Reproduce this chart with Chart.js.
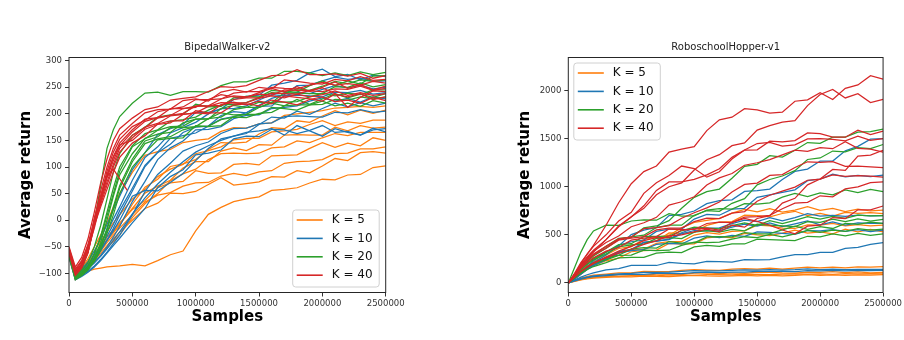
<!DOCTYPE html>
<html>
<head>
<meta charset="utf-8">
<title>Average return vs samples</title>
<script src="https://cdn.jsdelivr.net/npm/chart.js@4.4.1/dist/chart.umd.min.js"></script>
<style>
  html, body { margin: 0; padding: 0; background: #fff; }
  body { width: 904px; height: 340px; position: relative; overflow: hidden; }
  .panel { position: absolute; top: 0; width: 452px; height: 340px; }
  #walker-panel { left: 0; }
  #hopper-panel { left: 452px; }
</style>
</head>
<body>
<div class="panel" id="walker-panel"><canvas id="walker"></canvas></div>
<div class="panel" id="hopper-panel"><canvas id="hopper"></canvas></div>
<script>
// ---------- data ----------
const kValues = [5, 10, 20, 40];
const sampleTicks = [0, 500000, 1000000, 1500000, 2000000, 2500000];

// BipedalWalker-v2
const walkerSamples = [0, 50000, 100000, 150000, 200000, 250000, 300000, 350000, 400000,
  500000, 600000, 700000, 800000, 900000, 1000000, 1100000, 1200000, 1300000, 1400000, 1500000,
  1600000, 1700000, 1800000, 1900000, 2000000, 2100000, 2200000, 2300000, 2400000, 2500000];
const walkerTicks = [-100, -50, 0, 50, 100, 150, 200, 250, 300];

const walkerK5 = [
  [-65,-112,-102,-96,-92,-90,-88,-87,-86,-83,-86,-76,-65,-58,-20,11,24,35,40,44,56,58,61,70,77,76,85,86,99,102],
  [-58,-108,-98,-88,-75,-62,-48,-35,-22,0,22,32,51,50,54,67,80,66,69,72,82,81,93,89,102,116,112,127,129,126],
  [-62,-105,-96,-86,-72,-58,-42,-28,-15,10,34,47,52,64,70,71,83,88,84,91,93,107,110,111,114,125,126,134,134,138],
  [-55,-100,-92,-80,-64,-48,-32,-18,-5,20,37,61,70,73,93,88,89,105,107,104,121,122,123,135,146,137,145,140,155,150],
  [-70,-110,-100,-90,-78,-66,-52,-40,-28,5,31,50,74,87,96,114,125,126,125,126,136,138,149,146,155,163,159,165,165,165],
  [-60,-104,-94,-82,-68,-52,-36,-22,-8,22,51,64,75,98,110,110,130,136,131,142,141,160,161,160,160,175,168,178,173,175],
  [-52,-98,-90,-76,-58,-40,-22,-5,10,40,58,82,96,105,125,131,138,151,154,154,166,168,171,180,187,178,185,182,188,188],
  [-66,-106,-96,-84,-70,-54,-38,-24,-10,30,62,77,101,106,114,133,146,145,147,162,174,172,187,184,196,206,198,207,201,207],
  [-58,-102,-90,-72,-50,-28,-5,25,50,90,122,129,133,146,150,153,167,174,173,181,183,197,200,203,206,211,212,214,212,215]
];
const walkerK10 = [
  [-60,-100,-92,-78,-58,-35,-8,20,45,95,127,161,172,180,203,203,209,227,233,235,254,258,263,277,284,270,274,264,273,270],
  [-64,-104,-96,-84,-66,-46,-22,2,25,75,118,138,164,174,184,200,210,210,215,226,236,234,241,238,246,253,249,254,247,250],
  [-58,-106,-100,-90,-76,-58,-38,-15,10,55,101,127,143,165,175,177,197,204,202,214,215,234,235,234,232,241,240,244,237,240],
  [-62,-108,-102,-92,-80,-66,-50,-32,-12,35,73,114,136,149,170,171,176,191,197,198,210,212,215,224,230,224,229,222,232,228],
  [-55,-102,-96,-86,-72,-55,-38,-20,0,45,56,55,71,88,112,135,153,158,163,180,194,192,205,199,210,220,213,221,215,220],
  [-66,-110,-104,-96,-86,-74,-60,-44,-28,10,54,86,107,130,140,147,163,172,173,181,183,195,196,195,194,203,202,208,203,205],
  [-60,-105,-98,-90,-80,-68,-54,-38,-22,12,42,68,90,110,128,140,150,158,165,168,172,160,178,168,158,172,165,160,170,172],
  [-70,-112,-106,-98,-88,-76,-62,-48,-34,-5,22,61,82,95,123,126,132,153,158,157,171,170,163,169,178,165,167,160,173,166],
  [-58,-100,-94,-84,-70,-52,-30,-8,18,60,103,128,154,159,164,177,190,195,202,216,229,236,253,254,262,269,265,267,261,262]
];
const walkerK20 = [
  [-60,-105,-92,-60,-5,65,135,170,195,220,239,241,235,242,242,241,253,260,260,267,267,280,280,277,272,277,272,279,274,278],
  [-58,-102,-95,-80,-50,-10,40,90,125,160,175,194,198,199,218,213,214,230,233,232,244,242,241,253,262,253,262,256,271,272],
  [-65,-108,-100,-88,-64,-30,15,60,100,140,163,170,186,189,194,207,217,218,221,231,240,238,247,244,252,261,257,264,261,264],
  [-62,-110,-104,-92,-72,-42,0,45,85,125,154,162,165,183,190,190,210,216,212,222,221,240,239,238,238,251,250,258,251,255],
  [-56,-104,-98,-86,-62,-32,8,50,92,138,153,169,176,177,190,191,194,208,212,212,222,222,223,232,239,234,239,236,245,245],
  [-68,-112,-104,-94,-76,-50,-15,25,65,115,149,157,174,174,176,191,202,198,199,212,220,215,227,218,228,238,230,237,231,238],
  [-60,-106,-100,-90,-72,-48,-18,20,60,110,144,153,157,170,176,177,189,194,193,201,203,215,217,217,218,227,226,232,228,232],
  [-64,-108,-102,-92,-78,-56,-25,10,50,100,127,151,154,155,178,176,178,195,199,199,212,210,207,217,224,215,220,214,225,220]
];
const walkerK40 = [
  [-50,-88,-70,-35,15,70,115,150,172,192,208,213,226,229,232,242,251,250,253,263,272,273,283,274,274,275,271,276,267,272],
  [-55,-95,-78,-45,0,55,100,135,160,182,202,208,209,225,228,224,241,246,241,250,247,264,261,258,256,265,262,270,263,265],
  [-58,-100,-82,-50,-5,45,92,128,152,176,188,204,209,213,227,227,228,239,242,242,250,248,247,254,259,254,257,254,261,258],
  [-52,-92,-76,-48,-8,40,85,120,145,170,190,193,210,210,212,227,236,232,231,240,248,241,251,242,250,260,248,255,245,252],
  [-60,-98,-84,-56,0,40,80,112,140,166,186,193,197,210,214,215,228,234,232,237,235,245,244,243,242,247,246,252,244,248],
  [-56,-102,-88,-60,-5,35,72,105,135,160,174,192,197,201,215,215,216,227,230,230,239,238,237,244,249,238,212,231,243,242],
  [-62,-104,-90,-62,-8,30,66,100,128,155,175,182,196,199,202,214,221,220,221,229,234,230,237,232,236,243,235,240,235,238],
  [-54,-96,-82,-54,5,45,84,118,142,150,171,180,183,199,202,200,217,222,217,224,219,234,231,228,224,237,232,238,227,232],
  [-58,-100,-86,-60,-10,25,58,90,118,145,159,181,187,187,206,202,202,217,219,215,226,222,217,227,232,223,226,220,231,225]
];
// one K = 40 run that stops early
const walkerShortSamples = [0, 50000, 100000, 150000, 200000, 250000, 300000, 350000, 400000, 460000];
const walkerK40Short = [-60, -98, -84, -55, -15, 35, 82, 96, 78, 56];

// RoboschoolHopper-v1
const hopperSamples = [0, 50000, 100000, 150000, 200000, 300000, 400000, 500000, 600000,
  700000, 800000, 900000, 1000000, 1100000, 1200000, 1300000, 1400000, 1500000, 1600000,
  1700000, 1800000, 1900000, 2000000, 2100000, 2200000, 2300000, 2400000, 2500000];
const hopperTicks = [0, 500, 1000, 1500, 2000];

const hopperK5 = [
  [0,15,30,42,50,58,65,63,70,67,66,72,77,72,71,74,79,74,79,74,78,85,79,83,79,83,82,85],
  [0,18,35,48,56,64,66,76,75,73,83,79,78,85,86,83,90,88,85,92,95,90,93,89,97,94,97,95],
  [0,20,40,55,64,72,84,84,81,91,92,86,101,104,97,104,99,112,109,104,102,113,110,116,107,114,105,110],
  [0,25,50,68,80,92,105,105,120,116,116,129,138,134,131,142,148,143,153,144,154,164,156,163,157,167,165,170],
  [0,40,90,140,180,230,258,324,336,342,410,404,406,468,482,468,514,500,492,517,550,518,531,511,558,530,557,530],
  [0,45,100,150,190,250,324,346,352,412,430,430,498,524,508,536,542,600,592,569,566,603,600,619,593,606,592,600],
  [0,50,110,170,220,290,358,378,454,474,496,572,630,650,672,726,764,738,773,736,758,792,754,776,742,768,748,758],
  [0,45,100,155,200,270,308,394,416,432,520,514,526,598,632,638,704,700,687,722,745,700,724,696,734,722,732,720]
];
const hopperK10 = [
  [0,20,40,55,65,75,86,89,89,98,100,97,108,112,108,113,111,121,120,119,118,127,125,130,126,129,127,130],
  [0,22,45,60,72,84,95,98,110,109,111,120,127,125,125,131,136,132,139,134,138,145,139,144,139,141,140,140],
  [0,30,60,85,105,135,149,182,183,181,213,202,198,224,221,216,242,240,243,271,295,294,318,318,359,370,401,420],
  [0,40,90,140,180,240,310,335,345,400,410,405,465,490,470,495,485,530,525,515,505,545,540,555,535,555,533,550],
  [0,45,100,150,200,260,325,350,420,435,450,510,545,540,545,580,610,590,625,585,615,645,605,635,600,625,620,620],
  [0,50,110,170,230,320,384,502,548,576,700,712,748,824,856,864,952,960,976,1076,1160,1184,1268,1268,1374,1420,1496,1500],
  [0,45,100,160,210,290,392,428,446,536,560,560,664,712,704,768,776,890,916,942,968,1064,1080,1132,1104,1118,1106,1120],
  [0,40,95,145,190,250,318,338,424,434,456,522,570,570,572,616,654,638,678,646,680,720,694,702,692,706,698,700]
];
const hopperK20 = [
  [0,80,160,230,290,380,464,474,572,592,648,776,890,950,976,1088,1212,1234,1324,1308,1380,1460,1452,1516,1516,1568,1574,1600],
  [0,70,150,220,280,360,452,478,496,576,600,600,704,752,744,828,876,1020,1076,1112,1168,1284,1300,1372,1364,1408,1396,1440],
  [0,160,320,450,540,600,598,644,656,652,720,694,696,758,772,768,824,820,832,892,930,898,936,916,968,940,972,950],
  [0,65,140,200,250,320,398,408,484,484,486,542,580,570,562,596,624,598,648,616,650,690,664,692,672,706,698,700],
  [0,60,130,190,240,300,374,396,402,462,470,460,528,544,528,556,542,610,602,594,586,638,630,664,638,666,642,660],
  [0,55,120,170,210,260,288,354,366,362,430,414,416,478,482,478,524,510,512,552,590,558,586,566,618,610,632,620],
  [0,50,110,160,200,240,285,290,340,335,340,390,425,420,425,455,480,470,505,480,510,545,525,550,535,565,550,560],
  [0,50,100,140,170,210,260,265,265,310,320,315,375,390,380,405,405,455,450,445,440,485,480,510,490,515,495,510]
];
const hopperK40 = [
  [0,90,200,300,390,600,834,1032,1158,1216,1360,1392,1418,1584,1696,1724,1812,1800,1766,1776,1890,1904,1978,1908,2024,2060,2156,2120],
  [0,80,170,250,320,450,592,688,776,916,1000,1040,1174,1282,1334,1428,1456,1590,1636,1672,1688,1844,1960,2012,1924,1968,1876,1910],
  [0,100,210,300,380,500,644,734,932,1042,1118,1216,1190,1100,1156,1288,1382,1384,1474,1468,1480,1560,1552,1516,1516,1588,1544,1580],
  [0,90,190,270,340,450,584,686,802,962,1050,1050,1078,1124,1188,1306,1382,1450,1462,1424,1436,1498,1500,1494,1478,1526,1482,1500],
  [0,85,180,260,330,420,488,584,626,682,810,844,896,1018,1092,1138,1224,1250,1282,1332,1380,1368,1406,1396,1468,1400,1392,1360],
  [0,80,170,240,300,380,458,478,564,574,596,672,730,780,842,946,1024,1038,1118,1126,1200,1260,1254,1262,1212,1216,1208,1200],
  [0,75,160,230,290,360,444,466,482,552,570,570,638,674,668,726,742,850,912,954,996,1068,1080,1124,1108,1116,1112,1100],
  [0,70,150,210,260,330,368,444,466,482,560,554,556,618,632,628,684,690,702,772,830,838,906,896,978,1000,1042,1050],
  [0,60,120,160,200,270,330,380,440,470,470,550,560,570,550,630,670,640,600,550,510,590,600,680,670,760,760,800],
  [0,60,120,170,210,260,310,350,400,440,490,500,530,560,530,600,580,670,700,830,880,1020,1080,1180,1170,1320,1330,1380]
];

// ---------- styling ----------
const FONT = "'DejaVu Sans', sans-serif";
const kColors = ['#ff7f0e', '#1f77b4', '#2ca02c', '#d62728'];
const legendItems = kValues.map((k, i) => ({ label: 'K = ' + k, color: kColors[i] }));

// matplotlib prints negatives with a real minus sign
const fmtTick = v => (v < 0 ? '\u2212' + (-v) : String(v));

function lineSet(samples, values, gi) {
  return {
    label: 'K = ' + kValues[gi],
    data: values.map((v, i) => ({ x: samples[i], y: v })),
    borderColor: kColors[gi],
    borderWidth: 1.25,
    pointRadius: 0,
    fill: false,
    tension: 0,
    order: kValues.length - 1 - gi   // larger K drawn on top
  };
}

// axes frame (all four sides)
const frame = {
  id: 'frame',
  afterDatasetsDraw(chart) {
    const { ctx, chartArea: a } = chart;
    ctx.save();
    ctx.strokeStyle = '#262626';
    ctx.lineWidth = 1;
    ctx.strokeRect(a.left, a.top, a.right - a.left, a.bottom - a.top);
    ctx.restore();
  }
};

// matplotlib-style legend box inside the axes
const boxLegend = {
  id: 'boxLegend',
  afterDraw(chart, args, opts) {
    const { ctx, chartArea: a } = chart;
    const w = 86.5, h = 77, rowH = 18.4;
    const x = opts.corner === 'br' ? a.right - 6.5 - w : a.left + 5.5;
    const y = opts.corner === 'br' ? a.bottom - 5.5 - h : a.top + 5.5;
    ctx.save();
    ctx.beginPath();
    ctx.roundRect(x, y, w, h, 3);
    ctx.fillStyle = 'rgba(255,255,255,0.85)';
    ctx.fill();
    ctx.strokeStyle = '#d0d0d0';
    ctx.lineWidth = 1;
    ctx.stroke();
    ctx.font = '12px ' + FONT;
    ctx.textBaseline = 'middle';
    legendItems.forEach((it, i) => {
      const cy = y + 10 + i * rowH;
      ctx.strokeStyle = it.color;
      ctx.lineWidth = 1.6;
      ctx.beginPath();
      ctx.moveTo(x + 4, cy);
      ctx.lineTo(x + 30, cy);
      ctx.stroke();
      ctx.fillStyle = '#111';
      ctx.fillText(it.label, x + 39, cy);
    });
    ctx.restore();
  }
};

function makeChart(id, opt) {
  return new Chart(document.getElementById(id), {
    type: 'line',
    data: { datasets: opt.datasets },
    options: {
      responsive: true,
      maintainAspectRatio: false,
      animation: false,
      devicePixelRatio: 1,
      layout: { padding: opt.padding },
      plugins: {
        legend: { display: false },
        tooltip: { enabled: false },
        title: {
          display: true, text: opt.title, fullSize: false,
          font: { family: FONT, size: 10, weight: 'normal' }, color: '#222',
          padding: { top: 41, bottom: 4.5 }
        },
        boxLegend: { corner: opt.legendCorner }
      },
      scales: {
        x: {
          type: 'linear', min: 0, max: 2500000,
          afterBuildTicks: s => { s.ticks = sampleTicks.map(v => ({ value: v })); },
          afterFit: s => { s.height = 47.5; },
          ticks: { callback: v => String(v), font: { family: FONT, size: 8.5 }, color: '#333',
                   padding: 2, maxRotation: 0, autoSkip: false },
          grid: { drawOnChartArea: false, drawTicks: true, tickLength: 4, tickColor: '#333' },
          border: { display: false },
          title: { display: true, text: 'Samples', color: '#000',
                   font: { family: FONT, size: 15, weight: 'bold' }, padding: { top: 0, bottom: 13.5 } }
        },
        y: {
          type: 'linear', min: opt.yMin, max: opt.yMax,
          afterBuildTicks: s => { s.ticks = opt.yTicks.map(v => ({ value: v })); },
          afterFit: s => { s.width = 69; },
          ticks: { callback: fmtTick, font: { family: FONT, size: 8.5 }, color: '#333',
                   padding: 3, autoSkip: false },
          grid: { drawOnChartArea: false, drawTicks: true, tickLength: 4, tickColor: '#333' },
          border: { display: false },
          title: { display: true, text: 'Average return', color: '#000',
                   font: { family: FONT, size: 15, weight: 'bold' }, padding: { top: 17, bottom: 0 } }
        }
      }
    },
    plugins: [frame, boxLegend]
  });
}

// ---------- BipedalWalker ----------
const walkerSets = [];
[walkerK5, walkerK10, walkerK20, walkerK40].forEach((runs, gi) => {
  runs.forEach(r => walkerSets.push(lineSet(walkerSamples, r, gi)));
});
walkerSets.push(lineSet(walkerShortSamples, walkerK40Short, 3));

makeChart('walker', {
  title: 'BipedalWalker-v2',
  datasets: walkerSets,
  yMin: -136, yMax: 306, yTicks: walkerTicks,
  padding: { left: 0, right: 66.3, top: 0, bottom: 0 },
  legendCorner: 'br'
});

// ---------- RoboschoolHopper ----------
const hopperSets = [];
[hopperK5, hopperK10, hopperK20, hopperK40].forEach((runs, gi) => {
  runs.forEach(r => hopperSets.push(lineSet(hopperSamples, r, gi)));
});

makeChart('hopper', {
  title: 'RoboschoolHopper-v1',
  datasets: hopperSets,
  yMin: -100, yMax: 2345, yTicks: hopperTicks,
  padding: { left: 47.3, right: 19.7, top: 0, bottom: 0 },
  legendCorner: 'tl'
});
</script>
</body>
</html>
